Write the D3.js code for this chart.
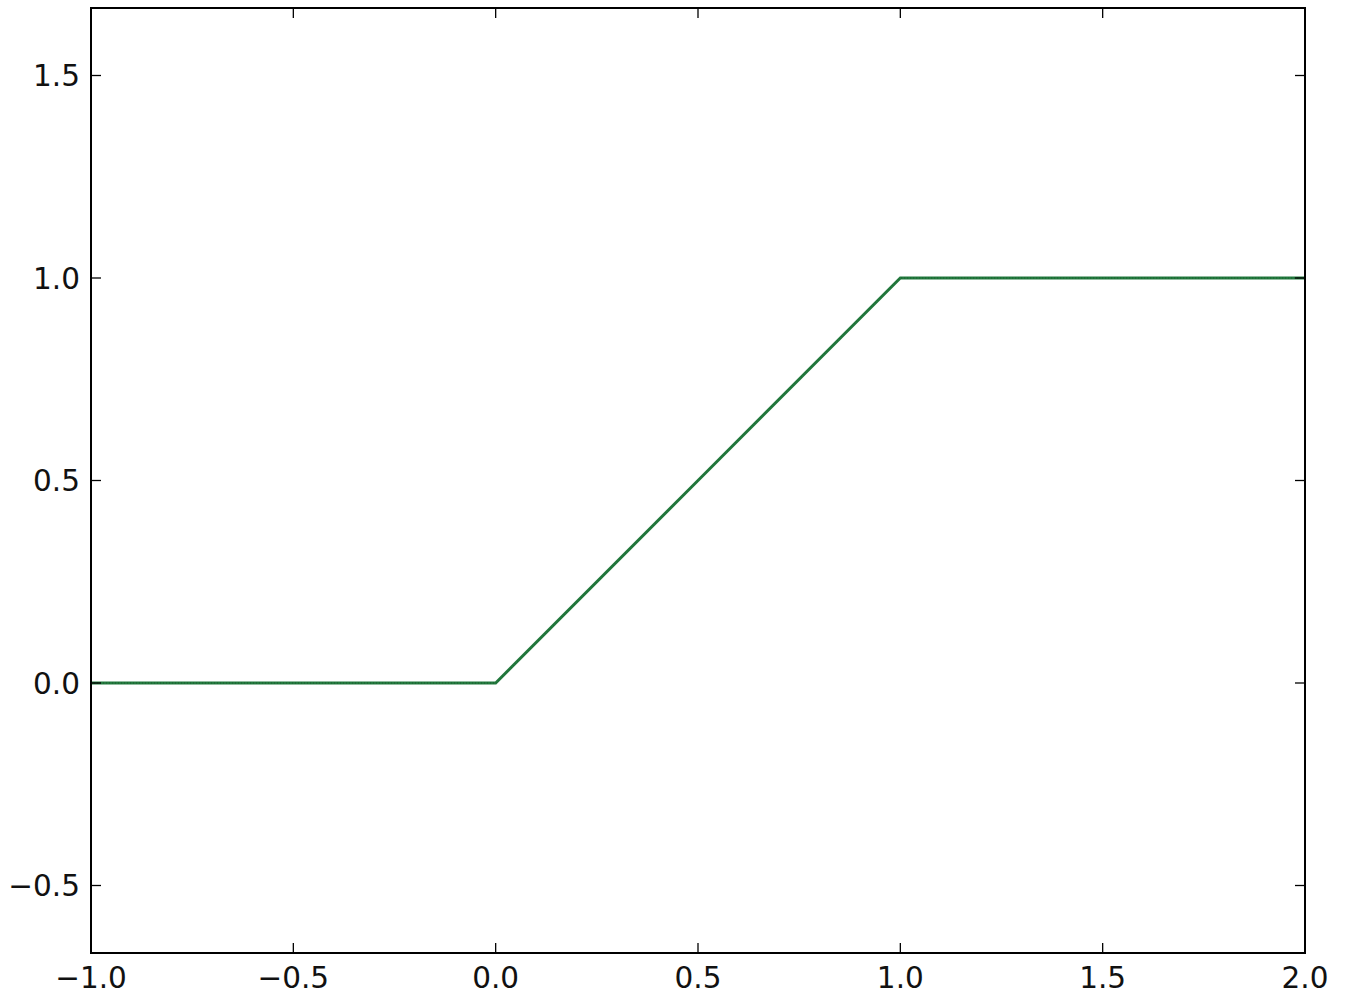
<!DOCTYPE html>
<html><head><meta charset="utf-8">
<script src="https://cdn.jsdelivr.net/npm/d3@7"></script>
<style>body{margin:0;background:#fff}svg{display:block}</style>
</head><body>
<svg id="c" width="1346" height="1001"></svg>
<script>
const xs = [-1.0, -0.5, 0.0, 0.5, 1.0, 1.5, 2.0];
const ys = [0.0, 0.0, 0.0, 0.5, 1.0, 1.0, 1.0];
const xTicks = [-1.0, -0.5, 0.0, 0.5, 1.0, 1.5, 2.0];
const yTicks = [-0.5, 0.0, 0.5, 1.0, 1.5];
const xDomain = [-1, 2];
const yDomain = [-2/3, 5/3];

const svg = d3.select("#c");
const L = 91, R = 1305, T = 8, B = 953;
const x = d3.scaleLinear().domain(xDomain).range([L, R]);
const y = d3.scaleLinear().domain(yDomain).range([B, T]);
const fmt = d => d3.format(".1f")(d).replace("-", "\u2212");
const font = "DejaVu Sans";

const line = d3.line().x(d => x(d[0])).y(d => y(d[1]));
const pts = xs.map((v, i) => [v, ys[i]]);
svg.append("path").attr("d", line(pts)).attr("fill", "none")
  .attr("stroke", "#237a3e").attr("stroke-width", 3).attr("stroke-linejoin", "miter");
svg.append("path").attr("d", line(pts)).attr("fill", "none")
  .attr("stroke", "#103a1e").attr("stroke-width", 1).attr("stroke-dasharray", "1,2").attr("opacity", 0.5);

// ticks
const tl = 10;
const g = svg.append("g").attr("stroke", "#000").attr("stroke-width", 1.3);
xTicks.forEach(t => {
  g.append("line").attr("x1", x(t)).attr("x2", x(t)).attr("y1", B).attr("y2", B - tl);
  g.append("line").attr("x1", x(t)).attr("x2", x(t)).attr("y1", T).attr("y2", T + tl);
});
yTicks.forEach(t => {
  g.append("line").attr("x1", L).attr("x2", L + tl).attr("y1", y(t)).attr("y2", y(t));
  g.append("line").attr("x1", R).attr("x2", R - tl).attr("y1", y(t)).attr("y2", y(t));
});
svg.append("rect").attr("x", L).attr("y", T).attr("width", R - L).attr("height", B - T)
  .attr("fill", "none").attr("stroke", "#000").attr("stroke-width", 2);

svg.append("g").selectAll("text").data(xTicks).join("text")
  .attr("x", d => x(d)).attr("y", 988).attr("text-anchor", "middle")
  .attr("font-family", font).attr("font-size", 29.5).attr("fill", "#111").text(fmt);
svg.append("g").selectAll("text").data(yTicks).join("text")
  .attr("x", 80).attr("y", d => y(d) + 10.5).attr("text-anchor", "end")
  .attr("font-family", font).attr("font-size", 29.5).attr("fill", "#111").text(fmt);
</script>
</body></html>
